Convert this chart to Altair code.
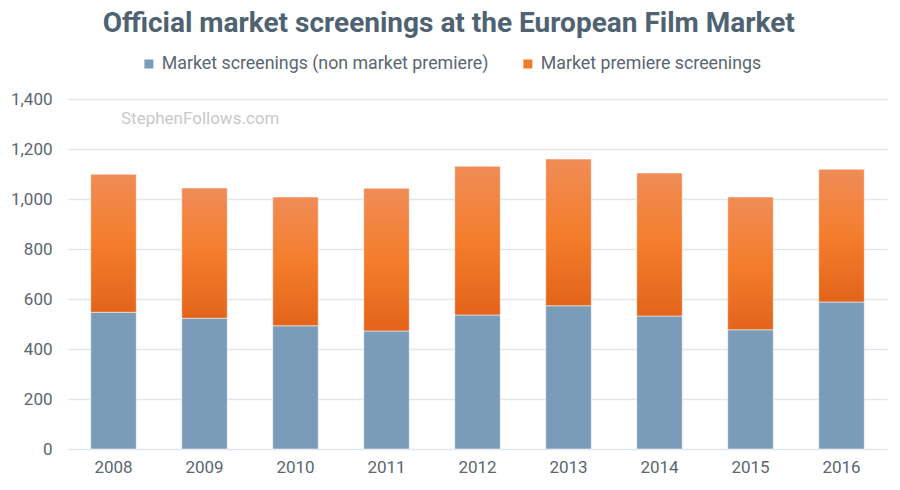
import altair as alt
import pandas as pd

years = ["2008", "2009", "2010", "2011", "2012", "2013", "2014", "2015", "2016"]
non_premiere = [547, 523, 493, 472, 536, 573, 532, 477, 588]
totals = [1099, 1044, 1008, 1043, 1131, 1160, 1104, 1008, 1119]
premiere = [t - n for t, n in zip(totals, non_premiere)]
series_names = ["Market screenings (non market premiere)", "Market premiere screenings"]
y_ticks = [0, 200, 400, 600, 800, 1000, 1200, 1400]
watermark = ["StephenFollows.com"]

df = pd.DataFrame({
    "year": years,
    "non_premiere": non_premiere,
    "premiere": premiere,
    "total": totals,
    "series": [series_names[0]] * len(years),
})

FONT = "Roboto"
TEXT = "#5b6670"

x_enc = alt.X("year:N", title=None,
              scale=alt.Scale(paddingInner=0.5, paddingOuter=0.25),
              axis=alt.Axis(labelAngle=0, domain=False, ticks=False, grid=False,
                            labelPadding=10, labelFontSize=17,
                            labelColor=TEXT, labelFont=FONT))

y_scale = alt.Scale(domain=[0, 1400], nice=False)

blue = alt.Chart(df).mark_bar(stroke="#ffffff", strokeOpacity=0.5, strokeWidth=1).encode(
    x=x_enc,
    y=alt.Y("non_premiere:Q", title=None, scale=y_scale,
            axis=alt.Axis(values=y_ticks, format=",.0f", domain=False, ticks=False,
                          labelPadding=16, labelFontSize=17, labelColor=TEXT,
                          labelFont=FONT, gridColor="#e3e6ec", gridWidth=1.5)),
    color=alt.Color("series:N",
                    scale=alt.Scale(domain=series_names, range=["#7a9cb8", "#f07b2b"]),
                    legend=alt.Legend(title=None, orient="none", direction="horizontal",
                                      legendX=72, legendY=-44, symbolType="square",
                                      symbolSize=110, symbolOpacity=1, labelFontSize=17.8,
                                      labelColor=TEXT, labelFont=FONT, columnPadding=30,
                                      labelOffset=4, labelLimit=400)),
)

orange_grad = alt.LinearGradient(
    gradient="linear",
    stops=[alt.GradientStop(color="#f08c57", offset=0),
           alt.GradientStop(color="#f47d2c", offset=0.5),
           alt.GradientStop(color="#e3641a", offset=1)],
    x1=0, x2=0, y1=0, y2=1,
)

orange = alt.Chart(df).mark_bar(fill=orange_grad, stroke="#ffffff", strokeOpacity=0.5,
                                strokeWidth=1).encode(
    x=alt.X("year:N"),
    y=alt.Y("non_premiere:Q", scale=y_scale),
    y2="total:Q",
)

wm = alt.Chart(pd.DataFrame({"t": watermark})).mark_text(
    align="left", baseline="middle", fontSize=17, font=FONT, color="#c8c8c8"
).encode(text="t:N", x=alt.value(53), y=alt.value(20))

chart = alt.layer(blue, orange, wm).properties(
    width=819,
    height=350,
    background="#ffffff",
    title=alt.TitleParams("Official market screenings at the European Film Market",
                          font=FONT, fontSize=28, fontWeight="bold", color="#4f6272",
                          anchor="middle", frame="bounds", offset=17),
    autosize=alt.AutoSizeParams(type="none"),
    padding={"left": 60, "top": 91, "right": 5, "bottom": 33},
).configure_view(stroke="transparent", strokeWidth=0)

chart.save("out.html", embed_options={"renderer": "svg", "actions": False})
